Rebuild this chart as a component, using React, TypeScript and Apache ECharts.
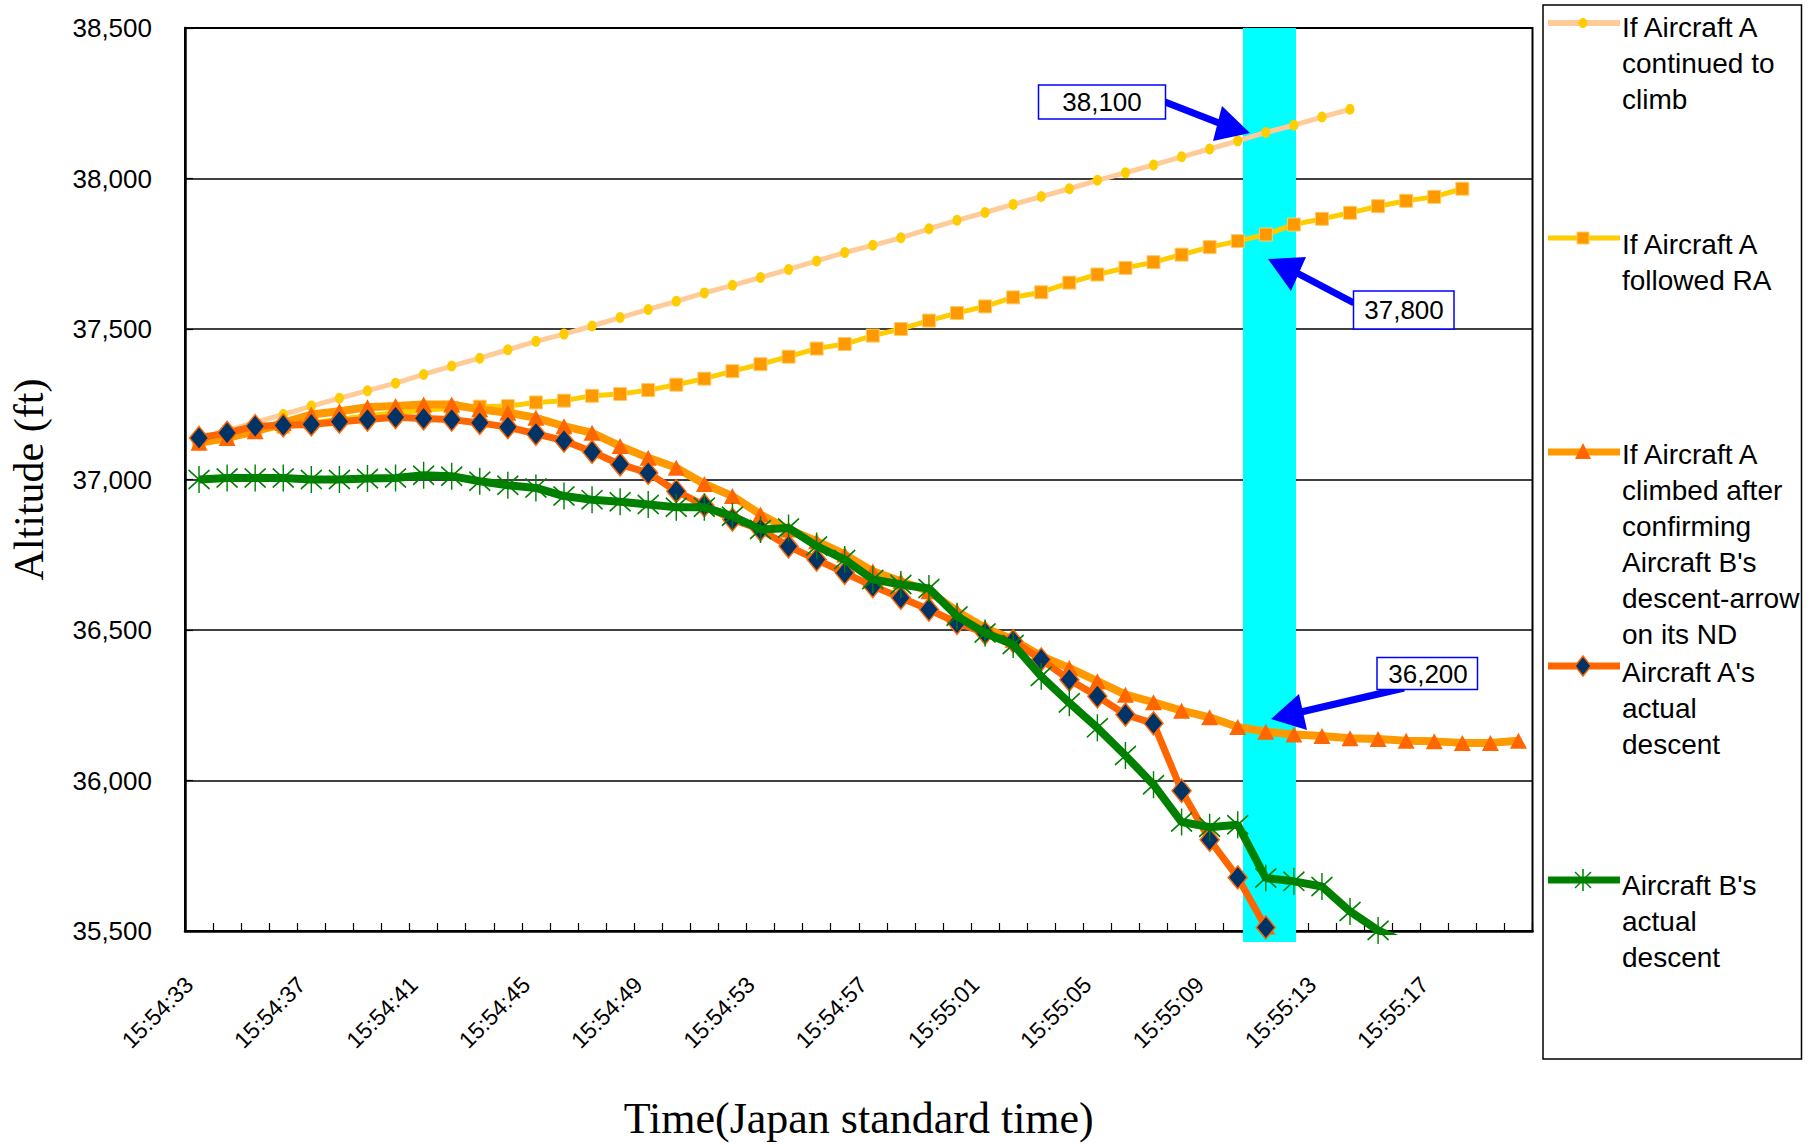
import React, { useEffect, useRef } from "react";
import * as echarts from "echarts";

const times = [
  "15:54:33", "15:54:34", "15:54:35", "15:54:36", "15:54:37", "15:54:38", "15:54:39", "15:54:40",
  "15:54:41", "15:54:42", "15:54:43", "15:54:44", "15:54:45", "15:54:46", "15:54:47", "15:54:48",
  "15:54:49", "15:54:50", "15:54:51", "15:54:52", "15:54:53", "15:54:54", "15:54:55", "15:54:56",
  "15:54:57", "15:54:58", "15:54:59", "15:55:00", "15:55:01", "15:55:02", "15:55:03", "15:55:04",
  "15:55:05", "15:55:06", "15:55:07", "15:55:08", "15:55:09", "15:55:10", "15:55:11", "15:55:12",
  "15:55:13", "15:55:14", "15:55:15", "15:55:16", "15:55:17", "15:55:18", "15:55:19", "15:55:20",
];

const continuedToClimb = [
  37135, 37162, 37190, 37216, 37244, 37270, 37295, 37320, 37349, 37377, 37403, 37431, 37459, 37483,
  37510, 37538, 37565, 37592, 37620, 37645, 37671, 37698, 37726, 37754, 37778, 37803, 37833, 37861,
  37887, 37914, 37940, 37966, 37994, 38019, 38045, 38072, 38098, 38125, 38153, 38177, 38204, 38230,
];

const followedRA = [
  37125, 37145, 37160, 37175, 37188, 37200, 37212, 37222, 37230, 37237, 37242, 37244, 37256, 37262,
  37278, 37284, 37297, 37315, 37335, 37360, 37383, 37408, 37435, 37450, 37478, 37500, 37528, 37553,
  37575, 37605, 37622, 37654, 37681, 37703, 37722, 37747, 37772, 37792, 37814, 37847, 37866, 37886,
  37908, 37926, 37939, 37966,
];

const climbedAfterConfirming = [
  37122, 37138, 37160, 37188, 37216, 37227, 37240, 37244, 37249, 37249, 37233, 37222, 37205, 37177,
  37155, 37111, 37072, 37039, 36985, 36945, 36884, 36834, 36795, 36751, 36695, 36662, 36629, 36562,
  36507, 36468, 36413, 36374, 36330, 36285, 36260, 36232, 36210, 36178, 36162, 36153, 36148, 36140,
  36138, 36132, 36130, 36125, 36125, 36132,
];

const aircraftAActual = [
  37138, 37155, 37177, 37180, 37183, 37192, 37199, 37207, 37203, 37199, 37188, 37174, 37152, 37129,
  37092, 37050, 37022, 36961, 36914, 36867, 36834, 36778, 36734, 36690, 36646, 36607, 36568, 36524,
  36490, 36463, 36402, 36335, 36280, 36219, 36190, 35966, 35803, 35678, 35512, 35390,
];

const aircraftBActual = [
  37000, 37005, 37005, 37005, 37000, 37000, 37003, 37005, 37014, 37011, 36994, 36981, 36972, 36945,
  36933, 36926, 36917, 36908, 36908, 36878, 36834, 36839, 36779, 36734, 36668, 36651, 36638, 36546,
  36490, 36452, 36346, 36258, 36175, 36083, 35986, 35862, 35845, 35853, 35676, 35665, 35648, 35565,
  35502, 35460,
];

const yMin = 35500;
const yMax = 38500;
const yInterval = 500;

const seriesNames = [
  "If Aircraft A continued to climb",
  "If Aircraft A followed RA",
  "If Aircraft A climbed after confirming Aircraft B's descent-arrow on its ND",
  "Aircraft A's actual descent",
  "Aircraft B's actual descent",
];

const legendLabels = [
  "If Aircraft A\ncontinued to\nclimb",
  "If Aircraft A\nfollowed RA",
  "If Aircraft A\nclimbed after\nconfirming\nAircraft B's\ndescent-arrow\non its ND",
  "Aircraft A's\nactual\ndescent",
  "Aircraft B's\nactual\ndescent",
];

const annotationLabels = ["38,100", "37,800", "36,200"];

const pad = (arr: number[]) => {
  const out: (number | null)[] = arr.slice();
  while (out.length < times.length) out.push(null);
  return out;
};

const STAR = "path://M10,0L10,25M1.16,3.66L18.84,21.34M1.16,21.34L18.84,3.66";
const SANS = "'Liberation Sans', Arial, sans-serif";
const SERIF = "'Liberation Serif', 'Times New Roman', serif";

export default function App() {
  const ref = useRef<HTMLDivElement>(null);

  useEffect(() => {
    const chart = echarts.init(ref.current!, null, { renderer: "svg" });

    const lx1 = 1548;
    const lx2 = 1620;
    const lmx = 1583;
    const tx = 1622;
    const lh = 36;
    const itemY = [23, 238, 452, 666, 880];
    const textY = [27, 244, 454, 672, 885];

    const legendGraphics: any[] = [
      {
        type: "rect",
        z: 40,
        shape: { x: 1543, y: 5, width: 258.5, height: 1054 },
        style: { fill: "#fff", stroke: "#000", lineWidth: 1.5 },
      },
      { type: "line", z: 41, shape: { x1: lx1, y1: itemY[0], x2: lx2, y2: itemY[0] }, style: { stroke: "#FFCC99", lineWidth: 6 } },
      { type: "ellipse", z: 42, shape: { cx: lmx, cy: itemY[0], rx: 4.5, ry: 5 }, style: { fill: "#FFCC00" } },
      { type: "line", z: 41, shape: { x1: lx1, y1: itemY[1], x2: lx2, y2: itemY[1] }, style: { stroke: "#FFCC00", lineWidth: 5 } },
      { type: "rect", z: 42, shape: { x: lmx - 6, y: itemY[1] - 6, width: 12, height: 12 }, style: { fill: "#FF9900", stroke: "#FFCC66", lineWidth: 1 } },
      { type: "line", z: 41, shape: { x1: lx1, y1: itemY[2], x2: lx2, y2: itemY[2] }, style: { stroke: "#FF9900", lineWidth: 7 } },
      { type: "polygon", z: 42, shape: { points: [[lmx, itemY[2] - 9], [lmx - 8, itemY[2] + 7], [lmx + 8, itemY[2] + 7]] }, style: { fill: "#FF6600" } },
      { type: "line", z: 41, shape: { x1: lx1, y1: itemY[3], x2: lx2, y2: itemY[3] }, style: { stroke: "#FF6600", lineWidth: 7 } },
      { type: "polygon", z: 42, shape: { points: [[lmx, itemY[3] - 10], [lmx + 8, itemY[3]], [lmx, itemY[3] + 10], [lmx - 8, itemY[3]]] }, style: { fill: "#003366", stroke: "#FF6600", lineWidth: 1.5 } },
      { type: "line", z: 41, shape: { x1: lx1, y1: itemY[4], x2: lx2, y2: itemY[4] }, style: { stroke: "#008000", lineWidth: 7 } },
      { type: "line", z: 42, shape: { x1: lmx, y1: itemY[4] - 11, x2: lmx, y2: itemY[4] + 11 }, style: { stroke: "#008000", lineWidth: 1.5 } },
      { type: "line", z: 42, shape: { x1: lmx - 8, y1: itemY[4] - 8, x2: lmx + 8, y2: itemY[4] + 8 }, style: { stroke: "#008000", lineWidth: 1.5 } },
      { type: "line", z: 42, shape: { x1: lmx - 8, y1: itemY[4] + 8, x2: lmx + 8, y2: itemY[4] - 8 }, style: { stroke: "#008000", lineWidth: 1.5 } },
    ];
    legendLabels.forEach((t, i) => {
      legendGraphics.push({
        type: "text",
        z: 43,
        x: tx,
        y: textY[i] - lh / 2,
        style: {
          text: t,
          fill: "#000",
          font: `28px ${SANS}`,
          lineHeight: lh,
          textAlign: "left",
          textVerticalAlign: "top",
        },
      });
    });

    const blue = "#0000FF";
    const annotationGraphics: any[] = [
      { type: "line", z: 50, shape: { x1: 1165, y1: 102, x2: 1219, y2: 123 }, style: { stroke: blue, lineWidth: 7 } },
      { type: "polygon", z: 50, shape: { points: [[1250, 133], [1213, 141], [1222, 106]] }, style: { fill: blue } },
      { type: "rect", z: 51, shape: { x: 1038.5, y: 85, width: 127, height: 34 }, style: { fill: "#fff", stroke: blue, lineWidth: 1.5 } },
      { type: "text", z: 52, x: 1102, y: 102, style: { text: annotationLabels[0], fill: "#000", font: `26px ${SANS}`, textAlign: "center", textVerticalAlign: "middle" } },
      { type: "line", z: 50, shape: { x1: 1354, y1: 303, x2: 1297, y2: 273 }, style: { stroke: blue, lineWidth: 7 } },
      { type: "polygon", z: 50, shape: { points: [[1268, 259], [1306, 257], [1291, 291]] }, style: { fill: blue } },
      { type: "rect", z: 51, shape: { x: 1353.5, y: 291, width: 100.5, height: 38 }, style: { fill: "#fff", stroke: blue, lineWidth: 1.5 } },
      { type: "text", z: 52, x: 1404, y: 310, style: { text: annotationLabels[1], fill: "#000", font: `26px ${SANS}`, textAlign: "center", textVerticalAlign: "middle" } },
      { type: "line", z: 50, shape: { x1: 1404, y1: 688, x2: 1301, y2: 712 }, style: { stroke: blue, lineWidth: 7 } },
      { type: "polygon", z: 50, shape: { points: [[1271, 719], [1299, 694], [1307, 730]] }, style: { fill: blue } },
      { type: "rect", z: 51, shape: { x: 1377, y: 657.5, width: 100.5, height: 32 }, style: { fill: "#fff", stroke: blue, lineWidth: 1.5 } },
      { type: "text", z: 52, x: 1428, y: 674, style: { text: annotationLabels[2], fill: "#000", font: `26px ${SANS}`, textAlign: "center", textVerticalAlign: "middle" } },
    ];

    const bandGraphic = {
      type: "rect",
      z: 1,
      silent: true,
      shape: { x: 1243, y: 28, width: 53, height: 914 },
      style: { fill: "#00FFFF" },
    };

    const common = { type: "line", showAllSymbol: true, connectNulls: false };

    chart.setOption({
      animation: false,
      backgroundColor: "#ffffff",
      grid: {
        left: 184,
        top: 28,
        width: 1348.5,
        height: 905,
        show: true,
        borderColor: "#000",
        borderWidth: 2,
        backgroundColor: "transparent",
        containLabel: false,
      },
      xAxis: {
        type: "category",
        data: times,
        boundaryGap: true,
        name: "Time(Japan standard time)",
        nameLocation: "middle",
        nameGap: 165,
        nameTextStyle: { fontFamily: SERIF, fontSize: 44, color: "#000" },
        axisLine: { show: true, onZero: false, lineStyle: { color: "#000", width: 2.5 } },
        axisTick: { show: true, inside: true, length: 8, interval: 0, lineStyle: { color: "#000", width: 1.2 } },
        axisLabel: {
          interval: 3,
          rotate: 45,
          margin: 40,
          padding: [0, 14, 0, 0],
          fontFamily: SANS,
          fontSize: 23,
          color: "#000",
        },
        splitLine: { show: false },
      },
      yAxis: {
        type: "value",
        min: yMin,
        max: yMax,
        interval: yInterval,
        name: "Altitude (ft)",
        nameLocation: "middle",
        nameGap: 135,
        nameTextStyle: { fontFamily: SERIF, fontSize: 42, color: "#000" },
        axisLine: { show: true, lineStyle: { color: "#000", width: 2.5 } },
        axisTick: { show: true, inside: true, length: 8, lineStyle: { color: "#000", width: 1.2 } },
        axisLabel: {
          margin: 33,
          fontFamily: SANS,
          fontSize: 26,
          color: "#000",
          formatter: (v: number) => v.toLocaleString("en-US"),
        },
        splitLine: { show: true, lineStyle: { color: "#000", width: 1.5 } },
      },
      series: [
        {
          ...common,
          name: seriesNames[0],
          data: pad(continuedToClimb),
          symbol: "circle",
          symbolSize: [9, 11],
          lineStyle: { color: "#FFCC99", width: 5 },
          itemStyle: { color: "#FFCC00" },
          z: 3,
        },
        {
          ...common,
          name: seriesNames[1],
          data: pad(followedRA),
          symbol: "rect",
          symbolSize: [13, 13],
          lineStyle: { color: "#FFCC00", width: 5 },
          itemStyle: { color: "#FF9900", borderColor: "#FFCC66", borderWidth: 1 },
          z: 4,
        },
        {
          ...common,
          name: seriesNames[2],
          data: pad(climbedAfterConfirming),
          symbol: "triangle",
          symbolSize: [17, 16],
          lineStyle: { color: "#FF9900", width: 8 },
          itemStyle: { color: "#FF6600" },
          z: 5,
        },
        {
          ...common,
          name: seriesNames[3],
          data: pad(aircraftAActual),
          symbol: "diamond",
          symbolSize: [19, 23],
          lineStyle: { color: "#FF6600", width: 7 },
          itemStyle: { color: "#003366", borderColor: "#FF6600", borderWidth: 1.5 },
          z: 6,
        },
        {
          ...common,
          name: seriesNames[4],
          data: pad(aircraftBActual),
          symbol: STAR,
          symbolSize: [21, 27],
          lineStyle: { color: "#008000", width: 8 },
          itemStyle: { color: "rgba(0,0,0,0)", borderColor: "#008000", borderWidth: 1.6 },
          z: 7,
        },
      ],
      graphic: [bandGraphic, ...annotationGraphics, ...legendGraphics],
    });

    return () => chart.dispose();
  }, []);

  return (
    <div
      ref={ref}
      style={{ position: "fixed", left: 0, top: 0, width: 1811, height: 1145, background: "#fff" }}
    />
  );
}
